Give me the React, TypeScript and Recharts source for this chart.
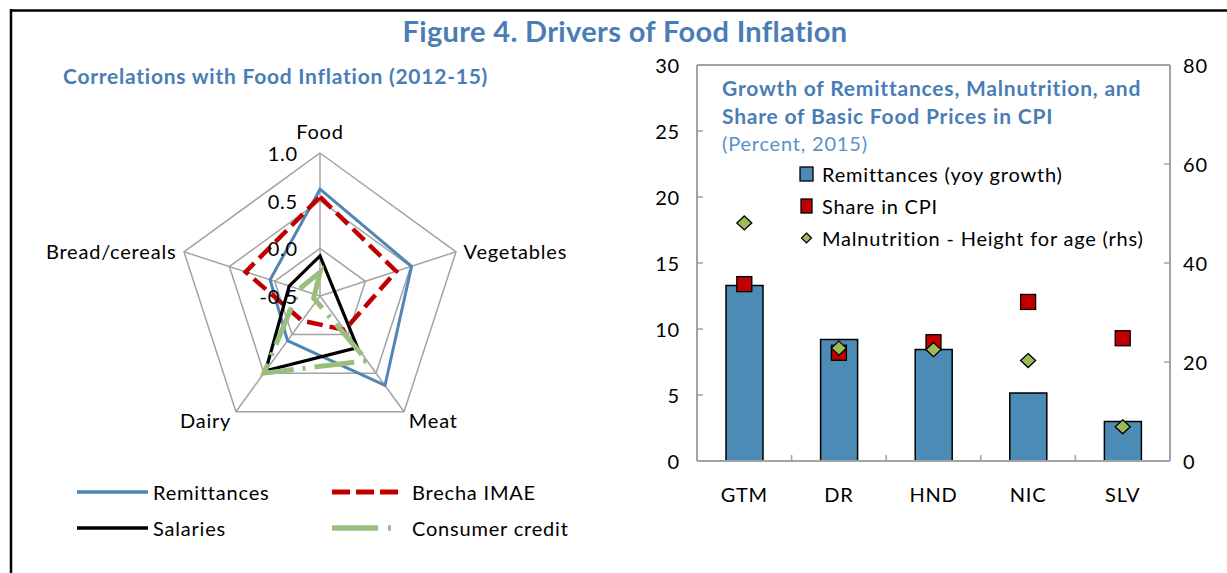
import React from "react";
import {
  Bar,
  ComposedChart,
  PolarAngleAxis,
  PolarGrid,
  PolarRadiusAxis,
  Radar,
  RadarChart,
  ReferenceLine,
  Scatter,
  XAxis,
  YAxis
} from "recharts";

const FONT = "Lato, 'Open Sans', sans-serif";
const TITLE_BLUE = "#4a7db5";
const SUB_BLUE = "#5b90c6";
const GRID_GRAY = "#a3a3a3";
const FS = 20;
const LS = 0.8;

// left panel: correlations with food inflation (2012-15)
const foodGroups = ["Food", "Vegetables", "Meat", "Dairy", "Bread/cereals"];
const remittancesCorr = [0.62, 0.51, 0.66, 0.08, 0.05];
const brechaCorr = [0.54, 0.34, -0.06, -0.18, 0.32];
const salariesCorr = [-0.08, -0.34, 0.17, 0.47, -0.16];
const creditCorr = [-0.25, -0.57, 0.34, 0.5, -0.27];
const radarTicks = [-0.5, 0, 0.5, 1];

// right panel: growth of remittances, malnutrition, share in CPI (2015)
const countries = ["GTM", "DR", "HND", "NIC", "SLV"];
const remittanceGrowth = [13.3, 9.2, 8.45, 5.15, 3.0];
const cpiShare = [13.4, 8.2, 9.0, 12.05, 9.3];
const malnutrition = [48.1, 22.8, 22.5, 20.3, 6.9];
const leftTicks = [0, 5, 10, 15, 20, 25, 30];
const rightTicks = [0, 20, 40, 60, 80];

const radarSeries = [
  { key: "remittances", name: "Remittances", color: "#4f86b6", width: 3, dash: undefined, legendDash: undefined },
  { key: "brecha", name: "Brecha IMAE", color: "#c00000", width: 4.5, dash: "16 7", legendDash: "18 6" },
  { key: "salaries", name: "Salaries", color: "#000000", width: 3.2, dash: undefined, legendDash: undefined },
  { key: "credit", name: "Consumer credit", color: "#98c07c", width: 5, dash: "40 9 3 9", legendDash: "46 10 3 20" }
];

const radarData = foodGroups.map((group, i) => ({
  group,
  remittances: remittancesCorr[i],
  brecha: brechaCorr[i],
  salaries: salariesCorr[i],
  credit: creditCorr[i]
}));

const barData = countries.map((country, i) => ({
  country,
  remit: remittanceGrowth[i],
  cpi: cpiShare[i],
  maln: malnutrition[i]
}));

const txt = { fontFamily: FONT, fontSize: FS, letterSpacing: LS, fill: "#000" } as const;
const boldBlue = { fontFamily: FONT, fontSize: 21, letterSpacing: 0.8, fontWeight: 700, fill: TITLE_BLUE } as const;

function AngleTick(props: any) {
  const { x, y, payload, textAnchor } = props;
  const top = textAnchor === "middle";
  return (
    <text x={x} y={top ? y - 14 : y + 2} textAnchor={textAnchor} dominantBaseline="central" {...txt}>
      {payload.value}
    </text>
  );
}

function RadiusTick(props: any) {
  const { x, y, payload } = props;
  return (
    <text x={x - 22} y={y} textAnchor="end" dominantBaseline="central" {...txt}>
      {Number(payload.value).toFixed(1)}
    </text>
  );
}

function LeftTick(props: any) {
  const { x, y, payload } = props;
  return (
    <g>
      <line x1={x} x2={x + 6} y1={y} y2={y} stroke={GRID_GRAY} strokeWidth={1.5} />
      <text x={x - 17} y={y} textAnchor="end" dominantBaseline="central" {...txt}>
        {payload.value}
      </text>
    </g>
  );
}

function RightTick(props: any) {
  const { x, y, payload } = props;
  return (
    <g>
      <line x1={x} x2={x - 6} y1={y} y2={y} stroke={GRID_GRAY} strokeWidth={1.5} />
      <text x={x + 13} y={y} textAnchor="start" dominantBaseline="central" {...txt}>
        {payload.value}
      </text>
    </g>
  );
}

function CountryTick(props: any) {
  const { x, y, payload, index } = props;
  const half = payload.offset || 47.3;
  return (
    <g>
      {index < countries.length - 1 && (
        <line x1={x + half} x2={x + half} y1={y} y2={y - 6} stroke={GRID_GRAY} strokeWidth={1.5} />
      )}
      <text x={x} y={y + 33} textAnchor="middle" dominantBaseline="central" {...txt}>
        {payload.value}
      </text>
    </g>
  );
}

const RedSquare = (props: any) => (
  <rect x={props.cx - 7.5} y={props.cy - 7.5} width={15} height={15} fill="#c00000" stroke="#000" strokeWidth={1.3} />
);

const GreenDiamond = (props: any) => (
  <polygon
    points={`${props.cx},${props.cy - 7} ${props.cx + 7.5},${props.cy} ${props.cx},${props.cy + 7} ${props.cx - 7.5},${props.cy}`}
    fill="#9bbb59"
    stroke="#000"
    strokeWidth={1.3}
  />
);

function Backdrop() {
  return (
    <svg width={1227} height={573} style={{ position: "absolute", left: 0, top: 0 }}>
      <line x1={11} x2={1227} y1={10.5} y2={10.5} stroke="#000" strokeWidth={2.5} />
      <line x1={11} x2={11} y1={9} y2={573} stroke="#000" strokeWidth={2.5} />
      <text
        x={625}
        y={30}
        textAnchor="middle"
        dominantBaseline="central"
        fontFamily={FONT}
        fontSize={29}
        letterSpacing={0.35}
        fontWeight={700}
        fill={TITLE_BLUE}
      >
        Figure 4. Drivers of Food Inflation
      </text>
      <text x={63} y={75} dominantBaseline="central" {...boldBlue} letterSpacing={0.75}>
        Correlations with Food Inflation (2012-15)
      </text>

      {/* radar legend */}
      {radarSeries.map((s, i) => {
        const col = i % 2;
        const row = Math.floor(i / 2);
        const y = 492 + row * 36;
        const x0 = col === 0 ? 77 : 332;
        const x1 = col === 0 ? 148 : 398;
        const tx = col === 0 ? 153 : 412;
        return (
          <g key={s.key}>
            <line x1={x0} x2={x1} y1={y} y2={y} stroke={s.color} strokeWidth={s.width + 0.5} strokeDasharray={s.legendDash} />
            <text x={tx} y={y} dominantBaseline="central" {...txt}>
              {s.name}
            </text>
          </g>
        );
      })}

      {/* bar chart inner title */}
      <text x={722} y={87} dominantBaseline="central" {...boldBlue}>
        Growth of Remittances, Malnutrition, and
      </text>
      <text x={722} y={115} dominantBaseline="central" {...boldBlue}>
        Share of Basic Food Prices in CPI
      </text>
      <text x={722} y={143} dominantBaseline="central" fontFamily={FONT} fontSize={FS} letterSpacing={LS} fill={SUB_BLUE}>
        (Percent, 2015)
      </text>

      {/* bar chart legend */}
      <rect x={800} y={167} width={13} height={14} fill="#4b8bb5" stroke="#000" strokeWidth={1.3} />
      <text x={822} y={174} dominantBaseline="central" {...txt}>Remittances (yoy growth)</text>
      <rect x={801} y={199} width={11} height={14} fill="#c00000" stroke="#000" strokeWidth={1.3} />
      <text x={822} y={206} dominantBaseline="central" {...txt}>Share in CPI</text>
      <polygon points="806.5,233 811.5,238 806.5,243 801.5,238" fill="#9bbb59" stroke="#000" strokeWidth={1.2} />
      <text x={822} y={238} dominantBaseline="central" {...txt}>Malnutrition - Height for age (rhs)</text>
    </svg>
  );
}

export default function App() {
  return (
    <div
      style={{
        position: "absolute",
        left: 0,
        top: 0,
        width: 1227,
        height: 573,
        background: "#fff",
        overflow: "hidden",
        fontFamily: FONT
      }}
    >
      <Backdrop />

      <div style={{ position: "absolute", left: 0, top: 0 }}>
        <RadarChart width={640} height={573} cx={320} cy={296} outerRadius={143} data={radarData}>
          <PolarGrid gridType="polygon" stroke={GRID_GRAY} strokeWidth={1.5} />
          <PolarAngleAxis dataKey="group" tick={AngleTick} tickLine={false} axisLine={false} />
          <PolarRadiusAxis
            angle={90}
            domain={[-0.5, 1]}
            ticks={radarTicks}
            tickCount={4}
            allowDataOverflow
            axisLine={false}
            tickLine={false}
            tick={RadiusTick}
          />
          {radarSeries.map((s) => (
            <Radar
              key={s.key}
              name={s.name}
              dataKey={s.key}
              stroke={s.color}
              strokeWidth={s.width}
              strokeDasharray={s.dash}
              fill="none"
              fillOpacity={0}
              dot={false}
              isAnimationActive={false}
            />
          ))}
        </RadarChart>
      </div>

      <div style={{ position: "absolute", left: 640, top: 0 }}>
        <ComposedChart width={587} height={520} data={barData} margin={{ top: 65, right: 0, bottom: 19, left: 0 }}>
          <XAxis
            dataKey="country"
            height={40}
            axisLine={{ stroke: GRID_GRAY, strokeWidth: 2 }}
            tickLine={false}
            tickSize={0}
            tickMargin={0}
            tick={CountryTick}
            interval={0}
          />
          <YAxis
            yAxisId="left"
            width={57}
            domain={[0, 30]}
            ticks={leftTicks}
            axisLine={{ stroke: GRID_GRAY, strokeWidth: 2 }}
            tickLine={false}
            tickSize={0}
            tickMargin={0}
            tick={LeftTick}
            interval={0}
          />
          <YAxis
            yAxisId="right"
            orientation="right"
            width={57}
            domain={[0, 80]}
            ticks={rightTicks}
            axisLine={{ stroke: GRID_GRAY, strokeWidth: 2 }}
            tickLine={false}
            tickSize={0}
            tickMargin={0}
            tick={RightTick}
            interval={0}
          />
          <ReferenceLine yAxisId="left" y={30} stroke={GRID_GRAY} strokeWidth={2} />
          <Bar yAxisId="left" dataKey="remit" barSize={37} fill="#4b8bb5" stroke="#000" strokeWidth={1.5} isAnimationActive={false} />
          <Scatter yAxisId="left" dataKey="cpi" shape={RedSquare} isAnimationActive={false} />
          <Scatter yAxisId="right" dataKey="maln" shape={GreenDiamond} isAnimationActive={false} />
        </ComposedChart>
      </div>
    </div>
  );
}
